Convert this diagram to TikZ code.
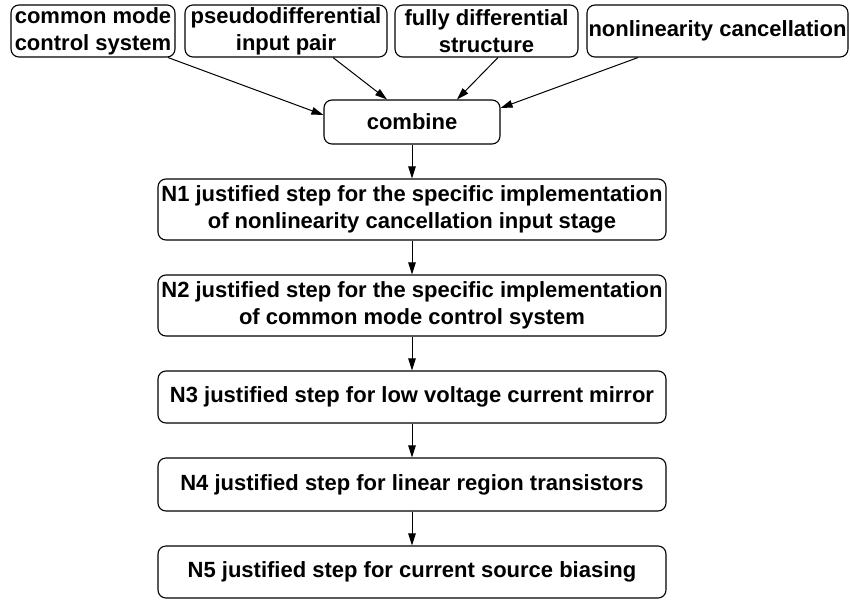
\documentclass[tikz,border=0pt]{standalone}
\usepackage{fontspec}
\setmainfont{Liberation Sans}
\usetikzlibrary{arrows.meta,positioning}
\begin{document}
\begin{tikzpicture}[x=1pt,y=1pt,
  box/.style={draw,line width=1.1pt,rounded corners=8pt,inner sep=0pt,
    align=center,font=\fontsize{22}{27}\selectfont\bfseries},
  link/.style={line width=1pt,-{Triangle[length=12pt,width=7.5pt]}}]
\useasboundingbox (0,0) rectangle (850,-599);
% input ideas
\node[box,minimum width=164,minimum height=52] (cm) at (93,-31) {common mode\\control system};
\node[box,minimum width=202,minimum height=52] (pd) at (286,-31) {pseudodifferential\\input pair};
\node[box,minimum width=183,minimum height=52] (fd) at (486.5,-31) {fully differential\\structure};
\node[box,minimum width=261,minimum height=52] (nc) at (717.5,-31) {nonlinearity cancellation};
% merge point
\node[box,minimum width=176,minimum height=44] (comb) at (412,-122) {combine};
% chain of justified steps
\node[box,minimum width=508,minimum height=61] (n1) at (412,-209.5) {N1 justified step for the specific implementation\\of nonlinearity cancellation input stage};
\node[box,minimum width=508,minimum height=61] (n2) at (412,-305.5) {N2 justified step for the specific implementation\\of common mode control system};
\node[box,minimum width=508,minimum height=52] (n3) at (412,-397) {N3 justified step for low voltage current mirror};
\node[box,minimum width=508,minimum height=53] (n4) at (412,-484.5) {N4 justified step for linear region transistors};
\node[box,minimum width=508,minimum height=52] (n5) at (412,-572) {N5 justified step for current source biasing};
% connectors
\draw[link] ([xshift=75]cm.south) -- ([yshift=7]comb.west);
\draw[link] ([xshift=47]pd.south) -- ([xshift=-25]comb.north);
\draw[link] ([xshift=11.5]fd.south) -- ([xshift=45]comb.north);
\draw[link] ([xshift=-79.5]nc.south) -- ([yshift=14]comb.east);
\draw[link] (comb) -- (n1);
\draw[link] (n1) -- (n2);
\draw[link] (n2) -- (n3);
\draw[link] (n3) -- (n4);
\draw[link] (n4) -- (n5);
\end{tikzpicture}
\end{document}
